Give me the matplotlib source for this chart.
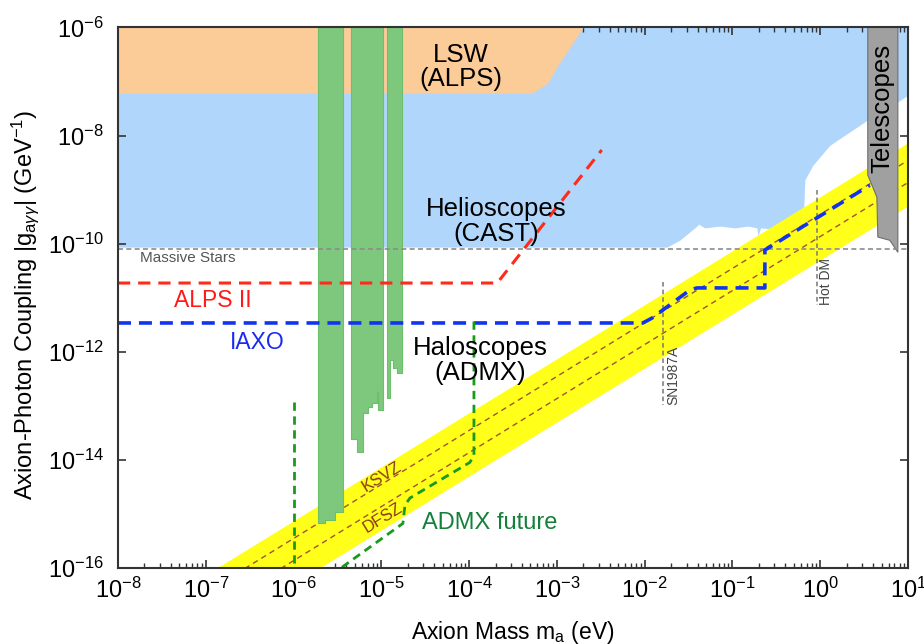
import matplotlib
matplotlib.use("Agg")
import matplotlib.pyplot as plt
import numpy as np
from matplotlib.ticker import LogLocator, NullFormatter, FixedLocator, LogFormatterSciNotation

plt.rcParams['font.family'] = ['Liberation Sans', 'DejaVu Sans']
plt.rcParams['mathtext.fontset'] = 'custom'
plt.rcParams['mathtext.rm'] = 'Liberation Sans'
plt.rcParams['mathtext.it'] = 'Liberation Sans:italic'
plt.rcParams['mathtext.bf'] = 'Liberation Sans:bold'

# ---------------- data (mass in eV, coupling in GeV^-1) ----------------
lsw_mass = [1e-8, 5.19e-4, 7.89e-4, 1.0e-3, 1.98e-3]
lsw_g = [6.1e-8, 6.1e-8, 9.4e-8, 1.86e-7, 1e-6]

cast_mass = [1e-8, 1.79e-2, 2.52e-2, 3.94e-2, 4.1e-2, 4.85e-2, 7.18e-2, 0.106, 0.150, 0.190,
             0.195, 0.209, 0.30, 0.395, 0.634, 0.668, 0.824, 1.285, 3.48, 7.66, 10.0]
cast_g = [8.6e-11, 8.6e-11, 1.16e-10, 2.11e-10, 2.29e-10, 1.95e-10, 2.11e-10, 1.95e-10, 2.11e-10, 1.95e-10,
          1.38e-10, 1.95e-10, 1.85e-10, 1.78e-10, 1.78e-10, 1.51e-9, 2.82e-9, 6.6e-9, 1.95e-8, 4.2e-8, 5.6e-8]

tel_mass = [3.48, 3.48, 4.42, 4.53, 6.21, 7.66, 7.66]
tel_g = [1e-6, 1.86e-9, 7.24e-10, 1.32e-10, 1.15e-10, 6.9e-11, 1e-6]

band_mass = [1e-8, 10.0]
band_upper = [7.4e-18, 7.4e-9]
band_lower = [5.0e-19, 5.0e-10]
ksvz_g = [3.47e-18, 3.47e-9]
dfsz_g = [1.35e-18, 1.35e-9]

admx1_edges = [1.90e-6, 2.28e-6, 2.96e-6, 3.66e-6]
admx1_bottom = [6.6e-16, 7.6e-16, 1.07e-15]
admx2_edges = [4.51e-6, 5.27e-6, 6.17e-6, 7.03e-6, 7.82e-6, 8.91e-6, 9.27e-6, 1.04e-5]
admx2_bottom = [2.4e-14, 1.38e-14, 7.2e-14, 9.3e-14, 1.12e-13, 1.78e-13, 8.3e-14]
admx3_edges = [1.16e-5, 1.24e-5, 1.355e-5, 1.51e-5, 1.72e-5]
admx3_bottom = [1.38e-13, 6.9e-13, 4.9e-13, 4.0e-13]

alps2_mass = [1e-8, 2.09e-4, 3.24e-3]
alps2_g = [1.86e-11, 1.86e-11, 5.4e-9]

iaxo_mass = [1e-8, 9.53e-3, 1.21e-2, 1.61e-2, 3.27e-2, 3.94e-2, 0.234, 0.234, 3.67]
iaxo_g = [3.39e-12, 3.39e-12, 4.17e-12, 5.89e-12, 1.38e-11, 1.51e-11, 1.51e-11, 7.59e-11, 1.2e-9]

admxf_a_mass = [1e-6, 1e-6]
admxf_a_g = [1.15e-13, 1e-16]
admxf_b_mass = [3.56e-6, 1.76e-5, 1.86e-5, 2.12e-5, 1.02e-4, 1.135e-4, 1.135e-4]
admxf_b_g = [1.02e-16, 6.6e-16, 1.45e-15, 1.95e-15, 8.9e-15, 1.2e-14, 4.37e-12]

massive_stars_g = 7.9e-11
sn1987a_mass = 1.62e-2
sn1987a_g = [1.95e-11, 1.02e-13]
hotdm_mass = 0.91
hotdm_g = [9.8e-10, 7.2e-12]

x_ticks = [1e-8, 1e-7, 1e-6, 1e-5, 1e-4, 1e-3, 1e-2, 1e-1, 1e0, 1e1]
y_ticks = [1e-16, 1e-14, 1e-12, 1e-10, 1e-8, 1e-6]

# ---------------- figure ----------------
fig = plt.figure(figsize=(9.24, 6.44), dpi=100)
ax = fig.add_axes([0.1277, 0.1185, 0.855, 0.8388])
ax.set_xscale('log')
ax.set_yscale('log')
ax.set_xlim(1e-8, 1e1)
ax.set_ylim(1e-16, 1e-6)

# CAST (blue)
ax.fill_between(cast_mass, cast_g, 1e-6, color='#B0D6FB', lw=0, zorder=1)
# LSW (orange)
ax.fill_between(lsw_mass, 1e-6, lsw_g, color='#FBCB98', lw=0, zorder=2)
# QCD axion band
ax.fill_between(band_mass, band_lower, band_upper, color='#FFFF1A', lw=0, zorder=3)
ax.plot(band_mass, ksvz_g, color='#A0522D', lw=1.0, dashes=(4, 3), zorder=4)
ax.plot(band_mass, dfsz_g, color='#A0522D', lw=1.0, dashes=(4, 3), zorder=4)

# ADMX bars (green)
for edges, bottom in [(admx1_edges, admx1_bottom), (admx2_edges, admx2_bottom), (admx3_edges, admx3_bottom)]:
    ax.fill_between(edges, list(bottom) + [bottom[-1]], 1e-6, step='post',
                    facecolor='#7DC87D', edgecolor='#6CC06C', lw=0.8, zorder=5)

# Telescopes
ax.fill(tel_mass, tel_g, facecolor='#A0A0A0', edgecolor='#6E6E6E', lw=0.8, zorder=6)

# Massive stars
ax.axhline(massive_stars_g, color='#8C8C8C', lw=1.2, dashes=(3, 2), zorder=7)
# SN1987A / Hot DM
ax.plot([sn1987a_mass, sn1987a_mass], sn1987a_g, color='#777777', lw=1.1, dashes=(3, 2), zorder=7)
ax.plot([hotdm_mass, hotdm_mass], hotdm_g, color='#777777', lw=1.1, dashes=(3, 2), zorder=7)

# ALPS II, IAXO, ADMX future
ax.plot(alps2_mass, alps2_g, color='#FF2A1A', lw=2.2, dashes=(4, 2.6), zorder=8)
ax.plot(iaxo_mass, iaxo_g, color='#1034F0', lw=2.6, dashes=(3.6, 2.2), zorder=8)
ax.plot(admxf_a_mass, admxf_a_g, color='#1A9A1A', lw=2.0, dashes=(3, 2), zorder=8)
ax.plot(admxf_b_mass, admxf_b_g, color='#1A9A1A', lw=2.0, dashes=(3, 2), zorder=8)

# ---------------- text ----------------
ax.text(10**-4.093, 10**-6.731, 'LSW\n(ALPS)', ha='center', va='center', fontsize=18.5, linespacing=1.05, zorder=10)
ax.text(10**-3.695, 10**-9.60, 'Helioscopes\n(CAST)', ha='center', va='center', fontsize=18.5, linespacing=1.05, zorder=10)
ax.text(10**-3.877, 10**-12.157, 'Haloscopes\n(ADMX)', ha='center', va='center', fontsize=18.5, linespacing=1.05, zorder=10)
ax.text(10**-6.918, 10**-11.046, 'ALPS II', ha='center', va='center', fontsize=16.5, color='#FF1A1A', zorder=10)
ax.text(10**-6.417, 10**-11.824, 'IAXO', ha='center', va='center', fontsize=16.5, color='#1A2AF0', zorder=10)
ax.text(10**-7.203, 10**-10.269, 'Massive Stars', ha='center', va='center', fontsize=11, color='#555555', zorder=10)
ax.text(10**-3.763, 10**-15.176, 'ADMX future', ha='center', va='center', fontsize=17, color='#15803A', zorder=10)
ax.text(10**0.713, 10**-7.49, 'Telescopes', ha='center', va='center', fontsize=18.5, rotation=90, zorder=10)
ax.text(10**-4.993, 10**-14.31, 'KSVZ', ha='center', va='center', fontsize=12, rotation=31.6, color='#8B3A1A', zorder=10)
ax.text(10**-4.982, 10**-15.08, 'DFSZ', ha='center', va='center', fontsize=12, rotation=31.6, color='#8B3A1A', zorder=10)
ax.text(10**-1.675, sn1987a_g[1], 'SN1987A', ha='center', va='bottom', fontsize=10, rotation=90, color='#444444', zorder=10)
ax.text(10**0.06, hotdm_g[1], 'Hot DM', ha='center', va='bottom', fontsize=10, rotation=90, color='#444444', zorder=10)

# ---------------- axes styling ----------------
ax.xaxis.set_major_locator(FixedLocator(x_ticks))
ax.xaxis.set_minor_locator(LogLocator(base=10, subs=np.arange(2, 10), numticks=20))
ax.xaxis.set_minor_formatter(NullFormatter())
ax.xaxis.set_major_formatter(LogFormatterSciNotation())
ax.yaxis.set_major_locator(FixedLocator(y_ticks))
ax.yaxis.set_minor_locator(FixedLocator([]))
ax.yaxis.set_major_formatter(LogFormatterSciNotation())

ax.tick_params(which='both', direction='in', top=True, right=True, colors='#333333')
ax.tick_params(which='major', length=6, width=1.2, labelsize=17, labelcolor='black')
ax.tick_params(which='minor', length=3.5, width=1.0)
ax.tick_params(axis='x', which='major', pad=7)
ax.tick_params(axis='y', which='major', pad=10)
for sp in ax.spines.values():
    sp.set_color('#333333')
    sp.set_linewidth(1.5)
    sp.set_zorder(12)

fig.text(513 / 924, 1 - 632 / 644, r'Axion Mass m$_\mathrm{a}$ (eV)', ha='center', va='center', fontsize=16.5)
fig.text(25 / 924, 1 - 305 / 644, r'Axion-Photon Coupling |g$_{\mathrm{a}\gamma\gamma}$| (GeV$^{-1}$)',
         ha='center', va='center', fontsize=17, rotation=90)

fig.savefig('out.png', dpi=100)
